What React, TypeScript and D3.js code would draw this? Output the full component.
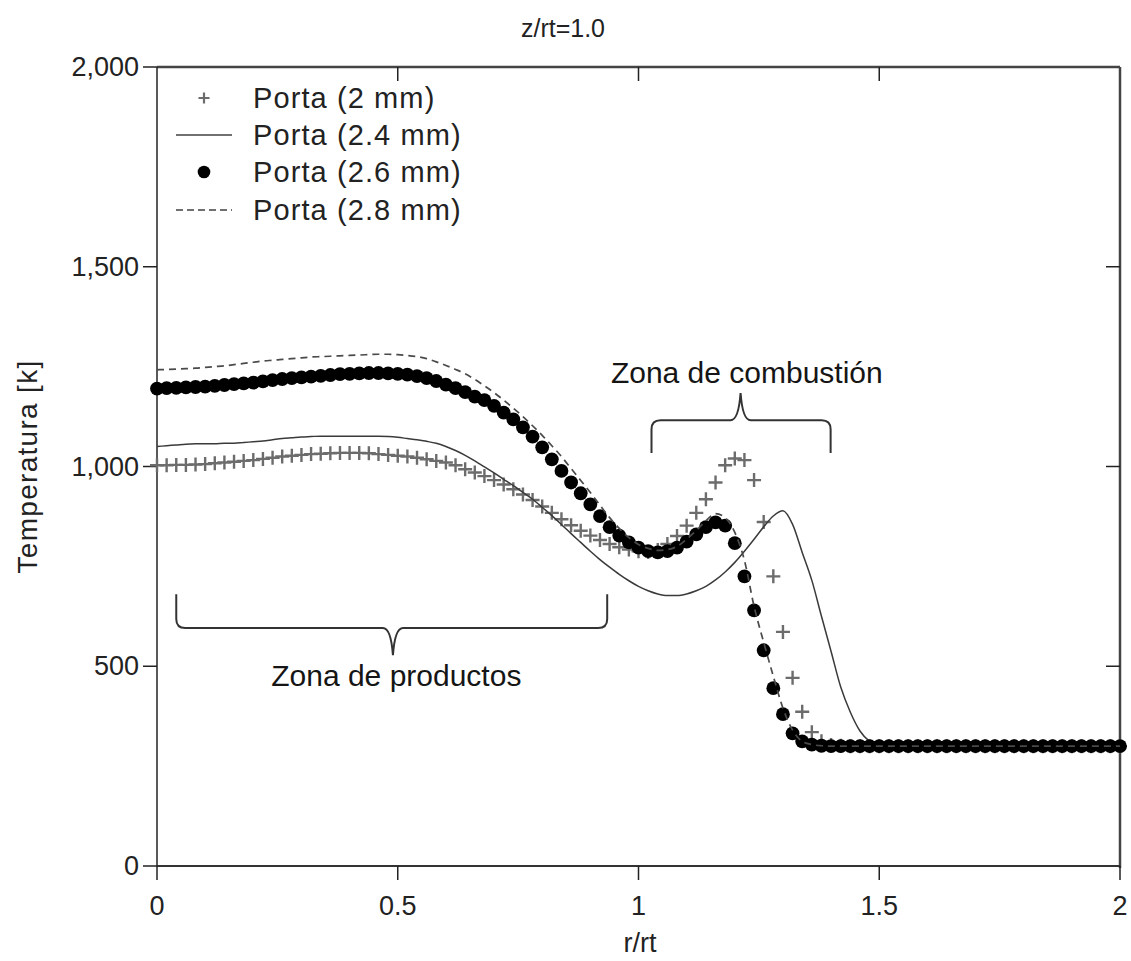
import React from "react";
import * as d3 from "d3";

// ---------- data ----------
const R_STEP = 0.02;
const R_GRID: number[] = d3.range(101).map((i) => +(i * R_STEP).toFixed(2));

const SERIES_NAMES = ["Porta (2 mm)", "Porta (2.4 mm)", "Porta (2.6 mm)", "Porta (2.8 mm)"];

const T_2MM = [
  1003, 1003, 1004, 1004, 1005, 1006, 1008, 1010, 1012, 1014,
  1016, 1019, 1022, 1025, 1027, 1029, 1031, 1032, 1033, 1034,
  1034, 1034, 1033, 1031, 1029, 1027, 1025, 1022, 1018, 1014,
  1010, 1003, 993, 985, 976, 966, 955, 943, 930, 916,
  900, 884, 868, 853, 839, 827, 816, 806, 798, 792,
  788, 786, 791, 806, 826, 852, 884, 918, 960, 1003,
  1020, 1016, 966, 861, 725, 586, 471, 386, 335, 312,
  303, 301, 300, 300, 300, 300, 300, 300, 300, 300,
  300, 300, 300, 300, 300, 300, 300, 300, 300, 300,
  300, 300, 300, 300, 300, 300, 300, 300, 300, 300,
  300,
];

const T_24MM = [
  1050, 1052, 1054, 1056, 1057, 1057, 1057, 1058, 1058, 1060,
  1062, 1064, 1067, 1070, 1072, 1074, 1075, 1076, 1076, 1076,
  1076, 1076, 1076, 1076, 1075, 1073, 1070, 1067, 1063, 1058,
  1050, 1040, 1028, 1014, 999, 984, 968, 952, 935, 918,
  898, 877, 855, 832, 810, 788, 767, 748, 730, 714,
  700, 689, 681, 677, 677, 681, 689, 700, 716, 736,
  760, 788, 818, 849, 876, 889, 855, 785, 715, 625,
  537, 448, 385, 338, 312, 303, 301, 300, 300, 300,
  300, 300, 300, 300, 300, 300, 300, 300, 300, 300,
  300, 300, 300, 300, 300, 300, 300, 300, 300, 300,
  300,
];

const T_26MM = [
  1195, 1196, 1197, 1198, 1199, 1200, 1202, 1204, 1206, 1208,
  1210, 1213, 1216, 1219, 1221, 1223, 1225, 1227, 1229, 1231,
  1232, 1233, 1234, 1234, 1233, 1232, 1230, 1226, 1221, 1214,
  1205, 1196, 1186, 1175, 1166, 1152, 1135, 1118, 1098, 1075,
  1048, 1018, 989, 960, 933, 905, 876, 848, 827, 810,
  797, 788, 785, 788, 797, 812, 830, 848, 860, 852,
  808, 725, 640, 540, 445, 380, 332, 312, 304, 301,
  300, 300, 300, 300, 300, 300, 300, 300, 300, 300,
  300, 300, 300, 300, 300, 300, 300, 300, 300, 300,
  300, 300, 300, 300, 300, 300, 300, 300, 300, 300,
  300,
];

const T_28MM = [
  1242, 1243, 1244, 1245, 1246, 1248, 1250, 1252, 1255, 1258,
  1261, 1264, 1266, 1268, 1270, 1272, 1274, 1275, 1276, 1277,
  1278, 1279, 1280, 1281, 1281, 1280, 1278, 1275, 1270, 1262,
  1253, 1243, 1232, 1218, 1202, 1185, 1166, 1146, 1125, 1102,
  1078, 1052, 1025, 995, 965, 935, 903, 872, 845, 822,
  805, 795, 790, 792, 800, 818, 840, 864, 882, 872,
  835, 765, 650, 560, 475, 395, 340, 312, 304, 301,
  300, 300, 300, 300, 300, 300, 300, 300, 300, 300,
  300, 300, 300, 300, 300, 300, 300, 300, 300, 300,
  300, 300, 300, 300, 300, 300, 300, 300, 300, 300,
  300,
];

const X_TICKS = [0, 0.5, 1, 1.5, 2];
const X_TICK_LABELS = ["0", "0.5", "1", "1.5", "2"];
const Y_TICKS = [0, 500, 1000, 1500, 2000];

const TITLE = "z/rt=1.0";
const X_LABEL = "r/rt";
const Y_LABEL = "Temperatura [k]";

// annotations (in data units)
const ZONE_PRODUCTS = { label: "Zona de productos", r0: 0.04, r1: 0.935, rTip: 0.49, tLine: 596, tEnd: 680, tTip: 528, rText: 0.497, tText: 450 };
const ZONE_COMBUSTION = { label: "Zona de combustión", r0: 1.027, r1: 1.399, rTip: 1.212, tLine: 1116, tEnd: 1034, tTip: 1184, rText: 1.225, tText: 1209 };

// ---------- layout ----------
const W = 1131;
const H = 961;
const L = 157;
const R = 1120;
const T = 67;
const B = 866;
const FONT = "'Liberation Sans', Arial, sans-serif";
const TICK = 14;

export default function App() {
  const x = d3.scaleLinear().domain([0, 2]).range([L, R]);
  const y = d3.scaleLinear().domain([0, 2000]).range([B, T]);

  const mk = (vals: number[]) => R_GRID.map((r, i) => [r, vals[i]] as [number, number]);
  const line = d3
    .line<[number, number]>()
    .x((d) => x(d[0]))
    .y((d) => y(d[1]))
    .curve(d3.curveMonotoneX);

  const brace = (z: typeof ZONE_PRODUCTS) => {
    const x0 = x(z.r0), x1 = x(z.r1), xm = x(z.rTip);
    const yl = y(z.tLine), ye = y(z.tEnd), yt = y(z.tTip);
    const s = ye < yl ? -1 : 1;
    const c = 9;
    return `M${x0},${ye} V${yl + s * c} Q${x0},${yl} ${x0 + c},${yl} H${xm - 10} Q${xm - 2},${yl} ${xm},${yt} Q${xm + 2},${yl} ${xm + 10},${yl} H${x1 - c} Q${x1},${yl} ${x1},${yl + s * c} V${ye}`;
  };

  const plusPath = "M-7,0H7M0,-7V7";
  const plusLegend = "M-5.5,0H5.5M0,-5.5V5.5";
  const d2 = mk(T_2MM);
  const d24 = mk(T_24MM);
  const d26 = mk(T_26MM);
  const d28 = mk(T_28MM);

  const legendY = [98, 135, 172, 210];

  return (
    <>
      <style>{"body{margin:0;background:#fff}"}</style>
      <svg width={W} height={H} style={{ display: "block", fontFamily: FONT }}>
        <rect width={W} height={H} fill="#fff" />
        {/* title */}
        <text x={563} y={37} fontSize={25} textAnchor="middle" fill="#222">{TITLE}</text>

        {/* frame */}
        <line x1={L} x2={R} y1={T} y2={T} stroke="#444" strokeWidth={2.5} />
        <line x1={R} x2={R} y1={T} y2={B + 2} stroke="#444" strokeWidth={2.5} />
        <line x1={L} x2={L} y1={T} y2={B} stroke="#222" strokeWidth={1.5} />
        <line x1={L} x2={R} y1={B} y2={B} stroke="#333" strokeWidth={2} />

        {/* x ticks */}
        {X_TICKS.map((v, i) => (
          <g key={"xt" + i}>
            <line x1={x(v)} x2={x(v)} y1={B} y2={B + TICK} stroke="#222" strokeWidth={1.5} />
            {v > 0 && v < 2 && <line x1={x(v)} x2={x(v)} y1={T} y2={T + TICK} stroke="#222" strokeWidth={1.5} />}
            <text x={x(v)} y={B + 49} fontSize={27} textAnchor="middle" fill="#222">{X_TICK_LABELS[i]}</text>
          </g>
        ))}
        {/* y ticks */}
        {Y_TICKS.map((v, i) => (
          <g key={"yt" + i}>
            <line x1={L - TICK} x2={L} y1={y(v)} y2={y(v)} stroke="#222" strokeWidth={1.5} />
            {v > 0 && v < 2000 && <line x1={R - TICK} x2={R} y1={y(v)} y2={y(v)} stroke="#222" strokeWidth={1.5} />}
            <text x={L - 18} y={y(v) + 9} fontSize={27} textAnchor="end" fill="#222">{d3.format(",")(v)}</text>
          </g>
        ))}
        <text x={640} y={952} fontSize={27} textAnchor="middle" fill="#222">{X_LABEL}</text>
        <text transform={`translate(37,${(T + B) / 2}) rotate(-90)`} fontSize={28} letterSpacing={1.3} textAnchor="middle" fill="#222">{Y_LABEL}</text>

        {/* series */}
        <g>
          {d2.map((d, i) => (
            <path key={"p" + i} d={plusPath} transform={`translate(${x(d[0])},${y(d[1])})`} stroke="#6c6c6c" strokeWidth={2.4} fill="none" />
          ))}
        </g>
        <path d={line(d24) || ""} fill="none" stroke="#3a3a3a" strokeWidth={1.5} />
        <g>
          {d26.map((d, i) => (
            <circle key={"c" + i} cx={x(d[0])} cy={y(d[1])} r={6.9} fill="#000" />
          ))}
        </g>
        <path d={line(d28) || ""} fill="none" stroke="#4a4a4a" strokeWidth={1.7} strokeDasharray="7,5" />

        {/* annotations */}
        {[ZONE_PRODUCTS, ZONE_COMBUSTION].map((z, i) => (
          <g key={"z" + i}>
            <path d={brace(z)} fill="none" stroke="#333" strokeWidth={2} />
            <text x={x(z.rText)} y={y(z.tText)} fontSize={30} textAnchor="middle" fill="#151515">{z.label}</text>
          </g>
        ))}

        {/* legend */}
        <g>
          <path d={plusLegend} transform={`translate(204,${legendY[0]})`} stroke="#6c6c6c" strokeWidth={2.2} fill="none" />
          <line x1={176} x2={232} y1={legendY[1]} y2={legendY[1]} stroke="#707070" strokeWidth={2} />
          <circle cx={204} cy={legendY[2]} r={6.3} fill="#000" />
          <line x1={176} x2={232} y1={legendY[3]} y2={legendY[3]} stroke="#707070" strokeWidth={2} strokeDasharray="7,4" />
          {SERIES_NAMES.map((n, i) => (
            <text key={"l" + i} x={253} y={legendY[i] + 10} fontSize={29} fill="#222" letterSpacing={1.1}>{n}</text>
          ))}
        </g>
      </svg>
    </>
  );
}
